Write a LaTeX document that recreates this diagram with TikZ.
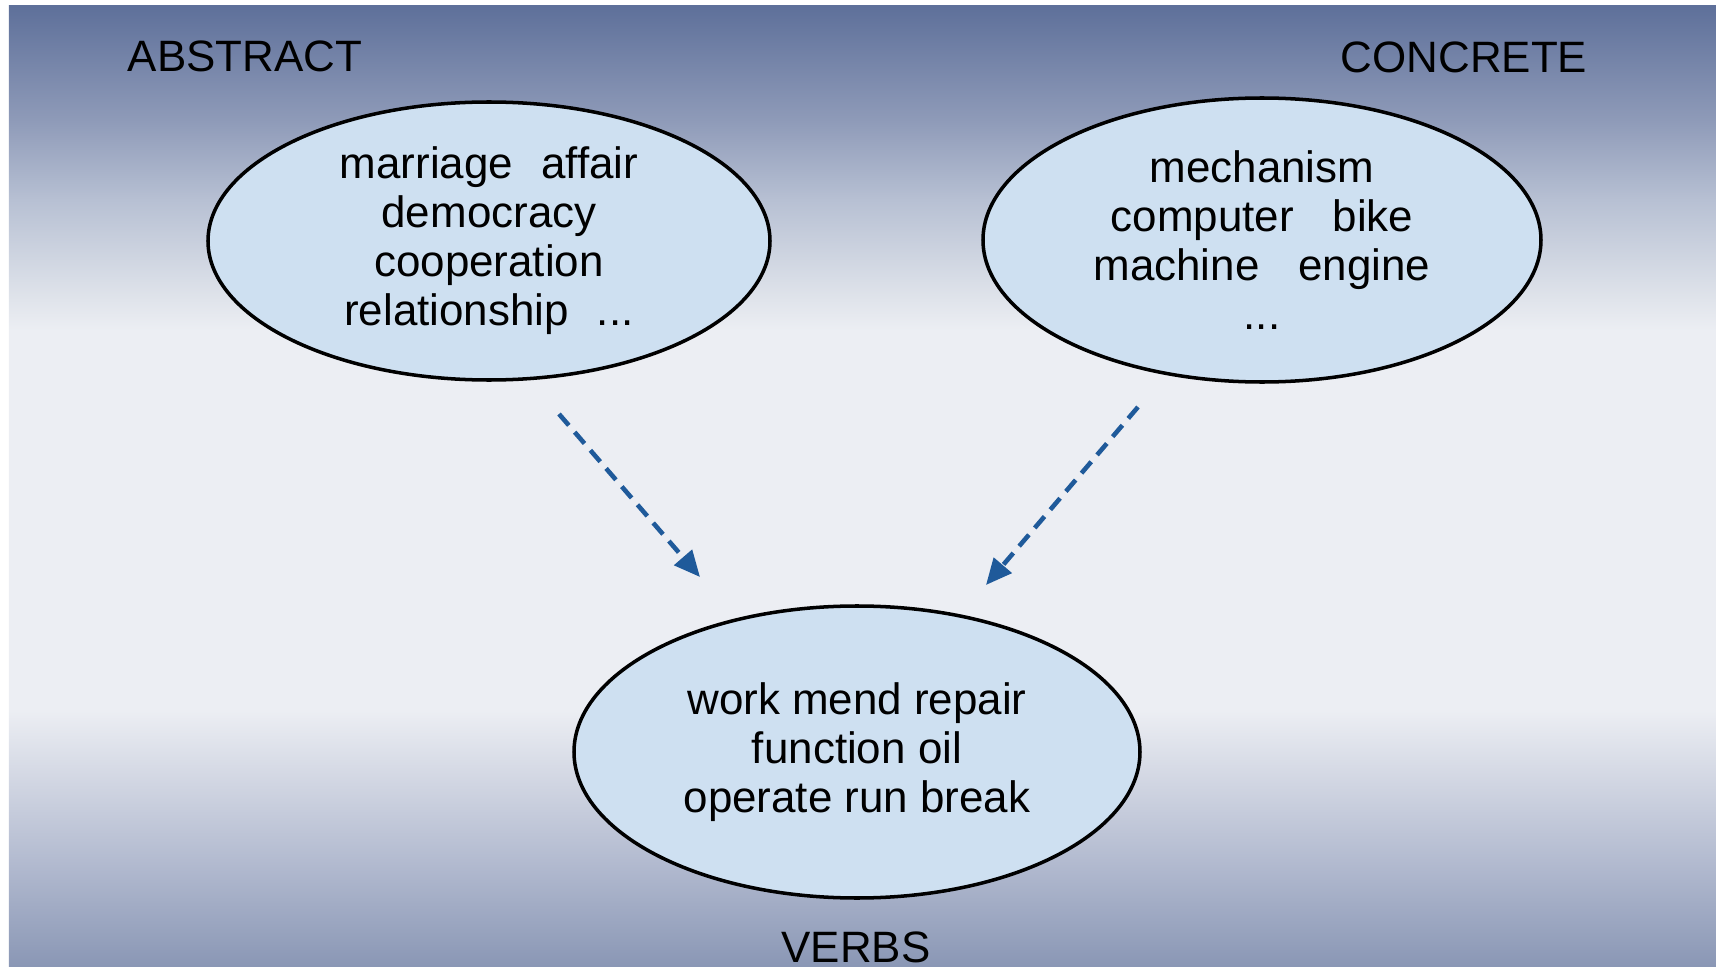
\documentclass[tikz,border=0pt]{standalone}
\usepackage{fontspec}
\setmainfont{Liberation Sans}
\usetikzlibrary{shapes.geometric,arrows.meta}

% background colours, bottom to top
\definecolor{bgA}{HTML}{8A97B5}
\definecolor{bgB}{HTML}{B3BBD0}
\definecolor{bgC}{HTML}{ECEEF3}
\definecolor{bgD}{HTML}{E0E4EB}
\definecolor{bgE}{HTML}{B7C0D3}
\definecolor{bgF}{HTML}{8E9AB8}
\definecolor{bgG}{HTML}{5E709A}
\definecolor{bubble}{HTML}{CEE0F1}
\definecolor{arrowblue}{HTML}{1F5A9A}

\pgfdeclareverticalshading{slideback}{100bp}{%
  color(0bp)=(bgA); color(25bp)=(bgA); color(30.5bp)=(bgB);
  color(38.3bp)=(bgC); color(58.1bp)=(bgC); color(59.7bp)=(bgD);
  color(64.9bp)=(bgE); color(69.1bp)=(bgF); color(75bp)=(bgG);
  color(100bp)=(bgG)}

\tikzset{
  wordset/.style={ellipse, draw=black, line width=1pt, fill=bubble,
    inner sep=0pt, align=center, text=black,
    font=\fontsize{12.5pt}{13.95pt}\selectfont},
  heading/.style={anchor=base, text=black,
    font=\fontsize{12.5pt}{13.95pt}\selectfont},
  flow/.style={draw=arrowblue, line width=1.3pt,
    dash pattern=on 1.5mm off 0.9mm,
    -{Triangle[length=2.6mm,width=2.3mm]}},
}

\begin{document}
\begin{tikzpicture}
\useasboundingbox (0,0) rectangle (17.16,9.66);
\shade[shading=slideback] (0.09,0) rectangle (17.16,9.60);

\node[heading] (abs) at (2.45,8.94) {ABSTRACT};
\node[heading] (con) at (14.64,8.93) {CONCRETE};
\node[heading] (vrb) at (8.56,0.04) {VERBS};

\node[wordset, minimum width=5.62cm, minimum height=2.78cm] (abstract) at (4.89,7.25)
  {marriage\hspace{2.8mm}affair\\ democracy\\ cooperation\\ relationship\hspace{2.8mm}...};
\node[wordset, minimum width=5.58cm, minimum height=2.84cm] (concrete) at (12.62,7.26)
  {mechanism\\ computer\hspace{3.9mm}bike\\ machine\hspace{3.9mm}engine\\ ...};
\node[wordset, minimum width=5.66cm, minimum height=2.92cm] (verbs) at (8.57,2.14)
  {work mend repair\\ function oil\\ operate run break};

\coordinate (a1) at (5.59,5.52);
\coordinate (a2) at (7.00,3.89);
\coordinate (c1) at (11.38,5.59);
\coordinate (c2) at (9.86,3.81);
\draw[flow] (a1) -- (a2);
\draw[flow] (c1) -- (c2);
\end{tikzpicture}
\end{document}
